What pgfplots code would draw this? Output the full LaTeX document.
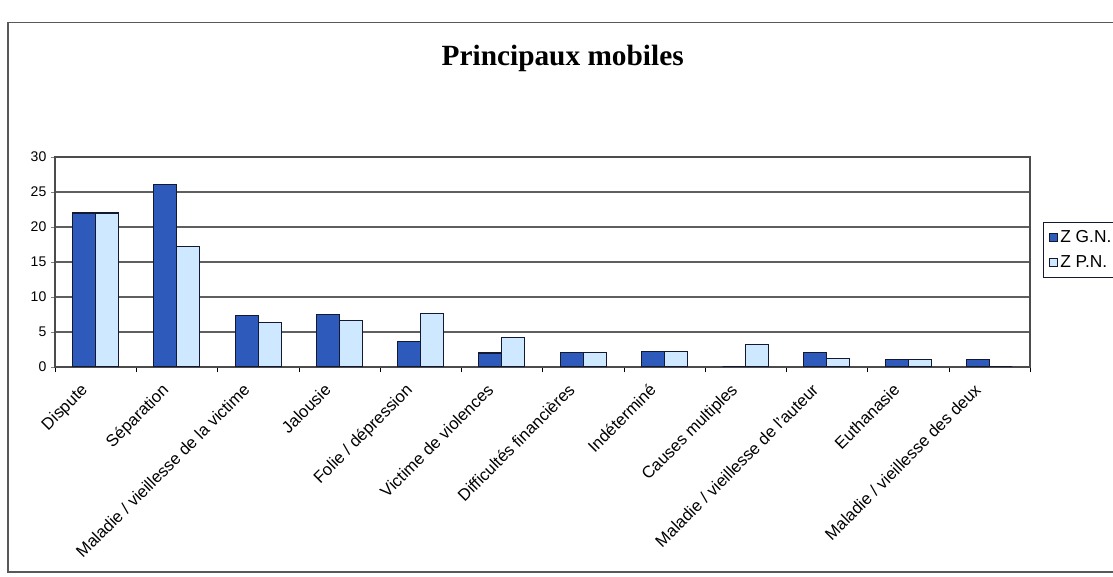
\documentclass[border=0pt]{standalone}
\usepackage{pgfplots}
\pgfplotsset{compat=1.18}
\usepackage{fontspec}
\setmainfont{Liberation Sans}
\newfontfamily\titlefont{Liberation Serif}
\definecolor{zgn}{RGB}{46,90,188}
\definecolor{zpn}{RGB}{206,232,255}
\definecolor{edgec}{RGB}{20,25,50}
\definecolor{gridc}{RGB}{95,95,95}
\begin{document}
\begin{tikzpicture}
\useasboundingbox (0,0) rectangle (834.75pt,432.75pt);
\fill[white] (0,0) rectangle (834.75pt,432.75pt);
\draw[gray!70!black, line width=0.8pt] (6pt,3.75pt) rectangle (845pt,416pt);
\node[font=\titlefont\bfseries\fontsize{22}{26}\selectfont] at (422pt,389pt) {Principaux mobiles};
\begin{axis}[
  at={(41.25pt,157.5pt)}, anchor=south west,
  scale only axis, width=731.25pt, height=157.5pt,
  ybar=0pt, bar width=17.25pt,
  xmin=-0.5, xmax=11.5, ymin=0, ymax=30,
  xtick={0,...,11},
  xticklabels={Dispute,S\'eparation,Maladie / vieillesse de la victime,Jalousie,Folie / d\'epression,Victime de violences,Difficult\'es financi\`eres,Ind\'etermin\'e,Causes multiples,Maladie / vieillesse de l'auteur,Euthanasie,Maladie / vieillesse des deux},
  major x tick style={draw=none},
  minor xtick={-0.5,0.5,...,11.5},
  minor x tick style={draw=black},
  tick align=outside, tick pos=lower,
  minor tick length=4pt, major tick length=3pt,
  ytick={0,5,...,30},
  ymajorgrids, grid style={gridc, line width=0.9pt},
  axis line style={gray!60!black, line width=0.8pt},
  xticklabel style={xshift=-12pt, yshift=-7pt, rotate=45, anchor=north east, inner sep=1pt, font=\fontsize{12.5}{14}\selectfont},
  yticklabel style={font=\fontsize{10.5}{12}\selectfont},
  /pgf/number format/assume math mode=true,
  legend style={at={(1.0133,0.69)}, anchor=north west, draw=edgec, line width=0.8pt,
    font=\fontsize{13}{15}\selectfont, row sep=4pt, inner xsep=4pt, inner ysep=4pt},
  legend cell align=left,
  legend image code/.code={\draw[#1, line width=0.6pt] (0pt,-3pt) rectangle (6pt,3pt);},
]
\addplot[fill=zgn, draw=edgec, line width=0.8pt] coordinates {
 (0,22) (1,26.1) (2,7.35) (3,7.5) (4,3.7) (5,2.0) (6,2.1) (7,2.2) (8,0) (9,2.1) (10,1.1) (11,1.1)};
\addplot[fill=zpn, draw=edgec, line width=0.8pt] coordinates {
 (0,22) (1,17.2) (2,6.4) (3,6.6) (4,7.7) (5,4.2) (6,2.1) (7,2.2) (8,3.15) (9,1.2) (10,1.1) (11,0)};
\legend{Z G.N., Z P.N.}
\end{axis}
\end{tikzpicture}
\end{document}
